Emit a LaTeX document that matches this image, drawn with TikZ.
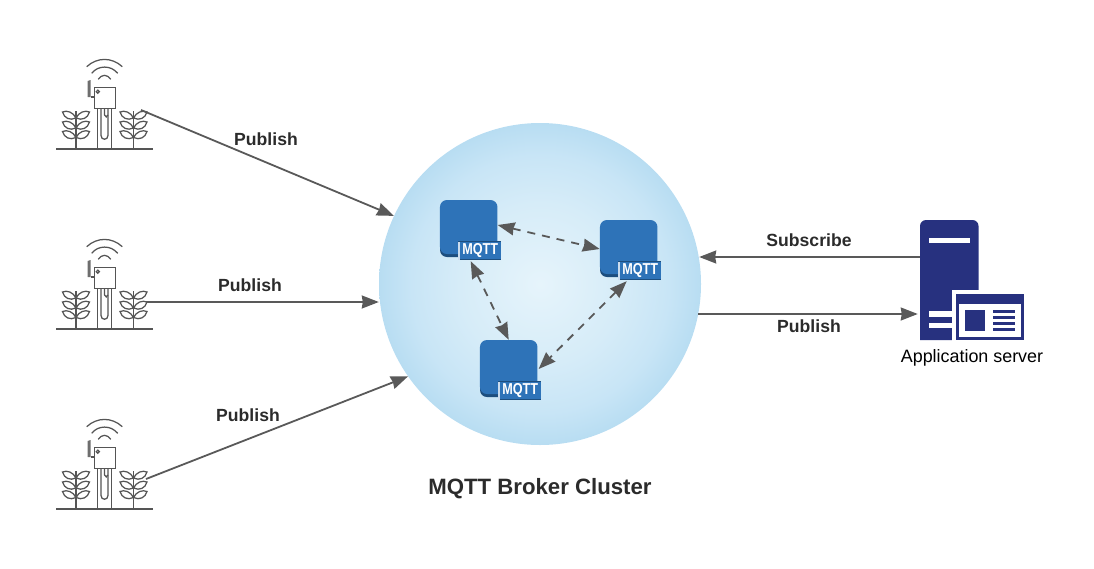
\documentclass[tikz,border=0pt]{standalone}
\usepackage{fontspec}
\setmainfont{Liberation Sans}
\usetikzlibrary{arrows.meta}
\definecolor{conn}{HTML}{595959}
\definecolor{txt}{HTML}{2B2B2B}
\definecolor{icon}{HTML}{555555}
\definecolor{brk}{HTML}{2E73B8}
\definecolor{brkd}{HTML}{1D4E7E}
\definecolor{srv}{HTML}{27317F}
\definecolor{glowa}{HTML}{E6F4FB}
\definecolor{glowb}{HTML}{D6ECF8}
\definecolor{glowc}{HTML}{C8E5F6}
\definecolor{glowd}{HTML}{B8DDF2}
\pgfdeclareradialshading{clusterglow}{\pgfpoint{0bp}{0bp}}{color(0bp)=(glowa); color(12.5bp)=(glowb); color(20bp)=(glowc); color(25bp)=(glowd); color(50bp)=(glowd)}
\tikzset{
  x=1pt,y=-1pt,
  wire/.style={draw=conn,line width=1.8pt,-{Stealth[length=17pt,width=13pt,inset=1pt]}},
  dwire/.style={draw=conn,line width=1.8pt,dash pattern=on 8pt off 7pt,
    {Stealth[length=17pt,width=13pt,inset=1pt]}-{Stealth[length=17pt,width=13pt,inset=1pt]}},
  lbl/.style={font=\fontsize{17.6}{20}\selectfont\bfseries,text=txt,inner sep=0pt},
  ico/.style={draw=icon,line width=1.25pt,fill=none},
  brokerbody/.style={fill=brk,rounded corners=7pt,minimum width=57.5pt,minimum height=54pt,inner sep=0pt,draw=none},
}
\newcommand{\leafpair}[2]{%
  \draw[ico] (#1,#2) .. controls (#1-3,#2-6) and (#1-9,#2-8) .. (#1-13.5,#2-6) .. controls (#1-12,#2) and (#1-6,#2+3) .. cycle;
  \draw[ico] (#1,#2) .. controls (#1+3,#2-6) and (#1+9,#2-8) .. (#1+13.5,#2-6) .. controls (#1+12,#2) and (#1+6,#2+3) .. cycle;
}
\newcommand{\plantIcon}[1]{%
  \draw[ico] (#1,111) -- (#1,148.7);
  \leafpair{#1}{118}
  \leafpair{#1}{128}
  \leafpair{#1}{137.5}
}
\newcommand{\sensorIcon}[2]{%
  \begin{scope}[shift={(#1,#2)}]
    \plantIcon{76}
    \plantIcon{133.5}
    \draw[icon,line width=1.6pt] (56,148.7) -- (153,148.7);
    \draw[ico] (97.5,108.7) -- (97.5,148.7) (111.5,108.7) -- (111.5,148.7);
    \draw[ico] (101,108.7) -- (101,135.5) .. controls (101,140.5) and (108,140.5) .. (108,135.5) -- (108,108.7);
    \draw[ico] (104.5,108.7) -- (104.5,115) .. controls (104.5,117.5) and (108,117.5) .. (108,115);
    \fill[icon!85!white] (87.5,97) -- (87.5,81) -- (90.5,80) -- (90.5,97) -- cycle;
    \draw[ico] (90.5,97) -- (94.3,97);
    \draw[ico,fill=white] (94.3,87.3) rectangle (115.7,108.7);
    \draw[ico] (97.8,91.7) circle[radius=1.6];
    \draw[ico] (86.7,66.7) .. controls (97,57) and (112,57) .. (122.3,66.7);
    \draw[ico] (91.7,73.3) .. controls (98,65) and (111,65) .. (117.7,73.3);
    \draw[ico] (98.3,79.3) .. controls (102,74) and (107,74) .. (110.7,79.3);
  \end{scope}
}
\newcommand{\brokerIcon}[3]{%
  \begin{scope}[shift={(#1,#2)}]
    \fill[brkd,rounded corners=7pt] (440,205) rectangle (490,257);
    \node[brokerbody] (#3) at (468.7,227) {};
    \fill[brkd] (458,240.5) rectangle (500.7,260.3);
    \fill[brk!25!white] (458,242) rectangle (459.5,260.3);
    \fill[brk] (459.5,242) rectangle (500.7,258.5);
    \node[font=\fontsize{15.8}{16}\selectfont\bfseries,text=white,inner sep=0pt,xscale=0.8,transform shape] at (480.2,250.3) {MQTT};
  \end{scope}
}
\begin{document}
\begin{tikzpicture}
\useasboundingbox (0,0) rectangle (1094,568);
% cluster
\node[circle,minimum size=322pt,inner sep=0pt,draw=none,shading=clusterglow] (cluster) at (540,284) {};
\node[font=\fontsize{22.2}{26}\selectfont\bfseries,text=txt,inner sep=0pt] (clusterlabel) at (540,489) {MQTT Broker Cluster};
% sensors
\sensorIcon{0}{0}
\sensorIcon{0}{180}
\sensorIcon{0}{360}
\coordinate (s1) at (141,110);
\coordinate (s2) at (146,302);
\coordinate (s3) at (146,479);
% brokers
\brokerIcon{0}{0}{b1}
\brokerIcon{160}{20}{b2}
\brokerIcon{40}{140}{b3}
% server
\node[draw=none,minimum width=58.5pt,minimum height=120pt,inner sep=0pt] (server) at (949.2,280) {};
\fill[srv,rounded corners=6pt] (920,340) -- (920,220) -- (978.5,220) -- (978.5,300) -- (978.5,340) [sharp corners] -- cycle;
\fill[white] (929,238) rectangle (970,243.3);
\fill[white] (929,311) rectangle (953,316.7);
\fill[white] (929,322.7) rectangle (953,328.3);
\fill[white] (952.3,290) rectangle (1026,341);
\fill[srv] (956,294.3) rectangle (1024,340);
\fill[white] (958.7,304) rectangle (1020.7,336.7);
\fill[srv] (965,310) rectangle (985,330.7);
\fill[srv] (993,310) rectangle (1015,312.7);
\fill[srv] (993,316) rectangle (1015,318.7);
\fill[srv] (993,322) rectangle (1015,324.7);
\fill[srv] (993,328) rectangle (1015,330.7);
\node[font=\fontsize{17.9}{20}\selectfont,text=black,inner sep=0pt] (serverlabel) at (972,358) {Application server};
% connector ends
\coordinate (subfrom) at ([yshift=23pt]server.west);
\coordinate (pubto) at ([xshift=-2pt,yshift=-34pt]server.west);
% connectors
\draw[wire] (s1) -- (cluster.155.3);
\draw[wire] (s2) -- (s2 -| cluster.west);
\draw[wire] (s3) -- (cluster.215);
\draw[wire] (subfrom) -- ([xshift=-2pt]subfrom -| cluster.east);
\draw[wire] ([xshift=-3pt]pubto -| cluster.east) -- (pubto);
\draw[dwire] ([yshift=2pt]b1.east) -- ([yshift=-2pt]b2.west);
\draw[dwire] ([shift={(2,7)}]b1.south) -- (b3.north);
\draw[dwire] ([shift={(-2,7)}]b2.south) -- ([xshift=1pt,yshift=-2pt]b3.east);
% labels
\node[lbl] (p1) at (266,139) {Publish};
\node[lbl] (p2) at (250,285) {Publish};
\node[lbl] (p3) at (248,415) {Publish};
\node[lbl] (p4) at (809,326) {Publish};
\node[lbl] (sub) at (809,240) {Subscribe};
\end{tikzpicture}
\end{document}
